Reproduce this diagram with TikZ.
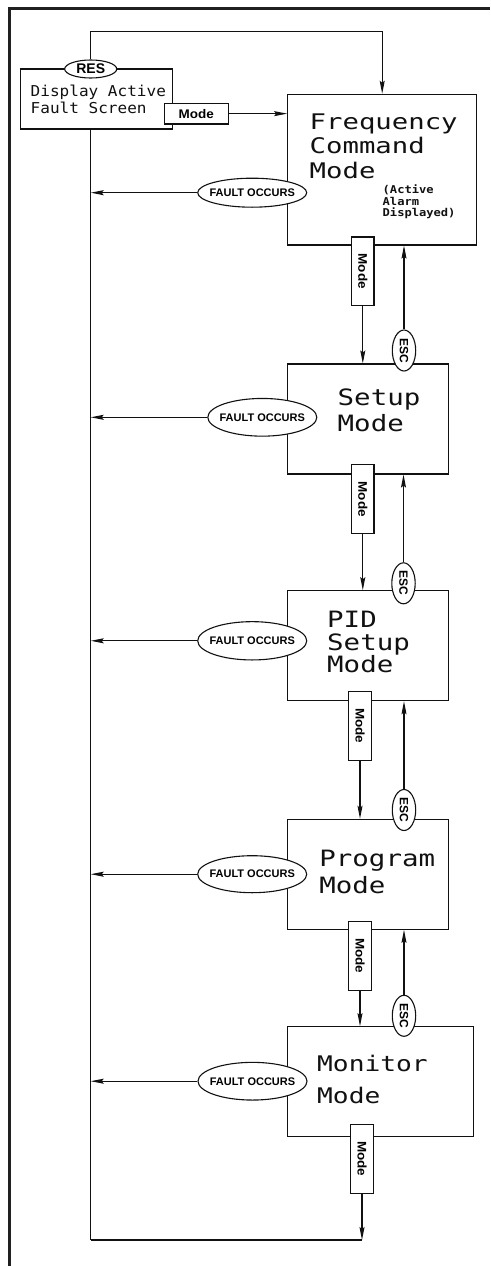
\documentclass[tikz,border=0pt]{standalone}
\usepackage{graphicx}
\usepackage{fontspec}
\usetikzlibrary{arrows.meta,shapes.geometric}

% lettering: a wide monoline face for the mode names, a heavy sans for the key labels
\newfontfamily\cadfont{DejaVu Sans Mono}[FakeStretch=1.22]
\newfontfamily\cadwide{DejaVu Sans Mono}[FakeStretch=1.27]
\newfontfamily\dispfont{DejaVu Sans Mono}[FakeStretch=1.07]
\newfontfamily\notefont{DejaVu Sans Mono}[FakeStretch=1.12]
\newfontfamily\labelfont{Liberation Sans}
\newfontfamily\modefont{Liberation Sans}[FakeStretch=1.08]

\definecolor{ink}{HTML}{111111}
\definecolor{framegray}{HTML}{202020}

\tikzset{
  stagebox/.style={draw=ink, rectangle, line width=1.1pt, inner sep=0pt, fill=white},
  keybox/.style={draw=ink, rectangle, line width=1.1pt, inner sep=0pt, fill=white,
    font=\modefont\bfseries\fontsize{12.5}{12.5}\selectfont},
  vkeybox/.style={keybox, minimum width=22.3pt, minimum height=68.7pt},
  faultoval/.style={draw=ink, ellipse, line width=1.1pt, inner sep=0pt, fill=white,
    minimum width=109pt, minimum height=37.7pt,
    font=\labelfont\bfseries\fontsize{11}{11}\selectfont},
  escoval/.style={draw=ink, ellipse, line width=1.1pt, inner sep=0pt, fill=white,
    minimum width=23.4pt, minimum height=41pt,
    font=\labelfont\bfseries\fontsize{12}{12}\selectfont},
  modename/.style={anchor=north west, inner sep=0pt, align=left, text=ink},
  link/.style={draw=ink, line width=1.1pt},
  arr/.style={link, -{Stealth[length=13pt, width=5pt, inset=2pt]}},
  framerule/.style={draw=framegray, line width=3pt},
}

\begin{document}
\begin{tikzpicture}[x=1pt, y=-1pt]
\useasboundingbox (0,0) rectangle (490,1266);

% page frame (top and left rules)
\draw[framerule] (8,8.5) -- (490,8.5);
\draw[framerule] (9.5,7) -- (9.5,1266);

% ---- fault screen entry ----
\node[stagebox, minimum width=152pt, minimum height=60pt] (disp) at (96.7,99) {};
\node[modename, font=\dispfont\fontsize{15}{16.5}\selectfont] (disptxt) at (30.5,85)
  {Display Active\\Fault Screen};
\node[draw=ink, ellipse, line width=1.1pt, inner sep=0pt, fill=white,
      minimum width=52pt, minimum height=18pt,
      font=\labelfont\bfseries\fontsize{14}{14}\selectfont] (res) at (90.7,69) {RES};
\node[keybox, minimum width=64.3pt, minimum height=20.7pt] (modeh) at (196.2,113.65) {Mode};

% ---- mode boxes ----
\node[stagebox, minimum width=189pt, minimum height=150.7pt] (freq) at (382.2,169.65) {};
\node[stagebox, minimum width=160.6pt, minimum height=110pt] (setup) at (368,419) {};
\node[stagebox, minimum width=160.6pt, minimum height=110pt] (pid) at (368,645.7) {};
\node[stagebox, minimum width=160.6pt, minimum height=110pt] (prog) at (368,874.3) {};
\node[stagebox, minimum width=185.6pt, minimum height=110pt] (mon) at (380.5,1081.7) {};

\node[modename, font=\cadwide\fontsize{21.5}{24.75}\selectfont] (freqtxt) at (309.5,113.3)
  {Frequency\\Command\\Mode};
\node[modename, font=\notefont\bfseries\fontsize{10.8}{11.7}\selectfont] (notetxt) at (382.5,184.5)
  {(Active\\Alarm\\Displayed)};
\node[modename, font=\cadfont\fontsize{22.5}{26.7}\selectfont] (setuptxt) at (337.5,388.3)
  {Setup\\Mode};
\node[modename, font=\cadfont\fontsize{22.5}{22.5}\selectfont] (pidtxt) at (327,611)
  {PID\\Setup\\Mode};
\node[modename, font=\cadfont\fontsize{22.5}{27.3}\selectfont] (progtxt) at (319.2,850)
  {Program\\Mode};
\node[modename, font=\cadfont\fontsize{21.5}{32}\selectfont] (montxt) at (317,1054.5)
  {Monitor\\Mode};

% ---- fault events ----
\node[faultoval, minimum height=29pt] (f1) at (252.2,192.7) {\makebox[0pt]{FAULT OCCURS}};
\node[faultoval] (f2) at (262.3,417.3) {\makebox[0pt]{FAULT OCCURS}};
\node[faultoval, minimum height=38.3pt] (f3) at (252.2,640.8) {\makebox[0pt]{FAULT OCCURS}};
\node[faultoval, minimum height=37pt] (f4) at (252.2,874.2) {\makebox[0pt]{FAULT OCCURS}};
\node[faultoval] (f5) at (252.5,1081.2) {\makebox[0pt]{FAULT OCCURS}};

% ---- Mode keys (downward) ----
\node[vkeybox] (m1) at (362.8,271.3) {\rotatebox{-90}{Mode}};
\node[vkeybox] (m2) at (362.8,499.2) {\rotatebox{-90}{Mode}};
\node[vkeybox] (m3) at (360,725.8) {\rotatebox{-90}{Mode}};
\node[vkeybox] (m4) at (360,955.8) {\rotatebox{-90}{Mode}};
\node[vkeybox] (m5) at (362,1158.8) {\rotatebox{-90}{Mode}};

% ---- ESC keys (upward) ----
\node[escoval] (e1) at (404,350.5) {\rotatebox{-90}{ESC}};
\node[escoval] (e2) at (403.5,583.3) {\rotatebox{-90}{ESC}};
\node[escoval] (e3) at (404,810) {\rotatebox{-90}{ESC}};
\node[escoval] (e4) at (404,1015.8) {\rotatebox{-90}{ESC}};

% ---- connectors ----
\coordinate (loopcorner) at (90.7,1240);
\coordinate (looptop) at (90.7,31.7);

\draw[arr] (res.north) -- (looptop) -| (freq.north);
\draw[arr] (modeh.east) -- (modeh.east -| freq.west);

% return spine on the left
\draw[link] (res |- disp.south) -- (loopcorner);
\draw[link] (loopcorner) -- (m5.south |- loopcorner);
\draw[arr] (m5.south) -- (m5.south |- loopcorner);

\draw[arr] (f1.west) -- (f1.west -| loopcorner);
\draw[arr] (f2.west) -- (f2.west -| loopcorner);
\draw[arr] (f3.west) -- (f3.west -| loopcorner);
\draw[arr] (f4.west) -- (f4.west -| loopcorner);
\draw[arr] (f5.west) -- (f5.west -| loopcorner);

\draw[arr] (m1.south) -- (m1.south |- setup.north);
\draw[arr] (m2.south) -- (m2.south |- pid.north);
\draw[arr] (m3.south) -- (m3.south |- prog.north);
\draw[arr] (m4.south) -- (m4.south |- mon.north);

\draw[arr] (e1.north) -- (e1.north |- freq.south);
\draw[arr] (e2.north) -- (e2.north |- setup.south);
\draw[arr] (e3.north) -- (e3.north |- pid.south);
\draw[arr] (e4.north) -- (e4.north |- prog.south);
\end{tikzpicture}
\end{document}
